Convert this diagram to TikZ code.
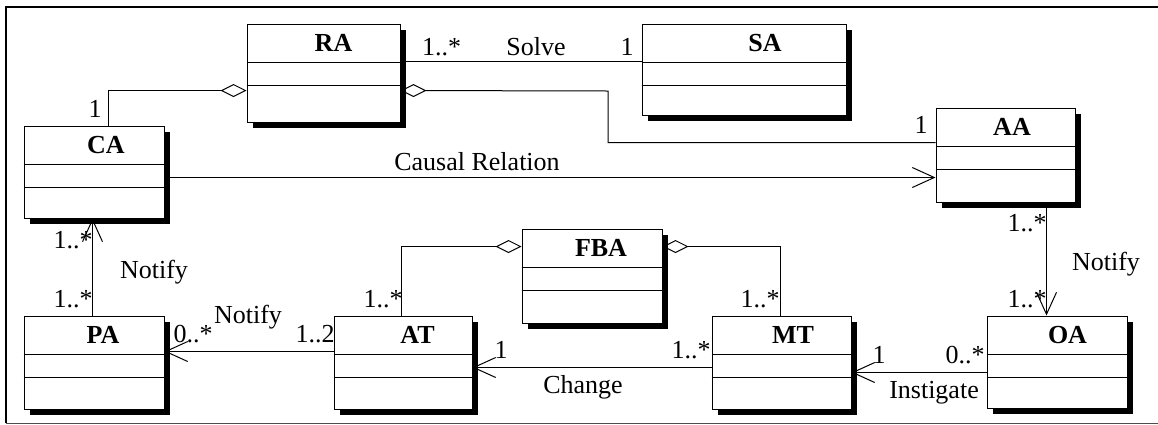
\documentclass[tikz,border=0pt]{standalone}
\usepackage{fontspec}
\setmainfont{Liberation Serif}
\usetikzlibrary{arrows.meta,fit,calc}
\tikzset{
  lbl/.style={anchor=base, inner sep=0pt, font=\fontsize{26}{30}\selectfont},
  nm/.style={anchor=base, inner sep=0pt, font=\fontsize{26}{30}\selectfont\bfseries},
  cls/.style={draw, fill=white, inner sep=0pt, line width=1pt},
  conn/.style={line width=1pt},
  nav/.style={conn, -{Straight Barb[length=22pt,width=20pt]}},
  agg/.style={conn, {Diamond[open,length=26pt,width=13pt]}-},
}
\newcommand{\umlclass}[7]{%
  \fill[black] ({#2+6},{#3+6}) rectangle ({#4+6},{#5+6});
  \node[cls, fit={(#2,#3) (#4,#5)}] (#1) {};
  \draw[line width=1pt] ($(#1.north west)+(0,39)$) -- ($(#1.north east)+(0,39)$);
  \draw[line width=1pt] ($(#1.north west)+(0,62)$) -- ($(#1.north east)+(0,62)$);
  \node[nm] (#1-name) at (#7,{#3+27.5}) {#6};
}
\begin{document}
\begin{tikzpicture}[x=1pt,y=-1pt]
\useasboundingbox (0,0) rectangle (1158,424);
\fill[white] (0,0) rectangle (1158,424);
% frame
\draw[line width=2pt] (6,423) -- (6,7) -- (1158,7);
\draw[line width=1pt, black!70] (6,423) -- (1158,423);
% classes
\umlclass{RA}{247}{24}{400}{122}{RA}{333.5}
\umlclass{SA}{642}{24}{846}{115}{SA}{765}
\umlclass{CA}{24}{126}{164}{218}{CA}{106}
\umlclass{AA}{936}{108}{1075}{202}{AA}{1012}
\umlclass{FBA}{522}{229}{662}{323}{FBA}{601}
\umlclass{PA}{24}{316}{164}{409}{PA}{103}
\umlclass{AT}{334}{316}{472}{409}{AT}{417.5}
\umlclass{MT}{712}{316}{851}{409}{MT}{793}
\umlclass{OA}{987}{316}{1127}{408}{OA}{1067.5}
% RA - CA aggregation
\draw[agg] ([yshift=-67pt]RA.north west) -| ([xshift=85pt]CA.north west);
\node[lbl] (l1) at (95,117) {1};
% RA - SA Solve
\draw[conn] ([yshift=-38pt]RA.north east) -- ([yshift=-38pt]SA.north west);
\node[lbl] (l2) at (441.5,55) {1..*};
\node[lbl] (l3) at (536,55) {Solve};
\node[lbl] (l4) at (627,55) {1};
% RA - AA aggregation
\coordinate (bend1) at (608,91);
\draw[agg] ([yshift=-67pt]RA.north east) -- (bend1) |- ([yshift=-35pt]AA.north west);
\node[lbl] (l5) at (921,133) {1};
% CA - AA causal relation
\draw[nav] ([yshift=-52pt]CA.north east) -- ([yshift=-70pt]AA.north west);
\node[lbl] (l6) at (477,170) {Causal Relation};
% PA - CA notify
\draw[nav] ([xshift=69pt]PA.north west) -- ([xshift=69pt]CA.south west);
\node[lbl] (l7) at (73,248) {1..*};
\node[lbl] (l8) at (73,307) {1..*};
\node[lbl] (l9) at (154,278) {Notify};
% AT - PA notify
\draw[nav] ([yshift=-36pt]AT.north west) -- ([yshift=-36pt]PA.north east);
\node[lbl] (l10) at (193,342) {0..*};
\node[lbl] (l11) at (248,323) {Notify};
\node[lbl] (l12) at (315,342) {1..2};
% FBA - AT aggregation
\draw[agg] ([yshift=-18pt]FBA.north west) -| ([xshift=68pt]AT.north west);
\node[lbl] (l13) at (383,307) {1..*};
% FBA - MT aggregation
\draw[agg] ([yshift=-18pt]FBA.north east) -| ([xshift=69pt]MT.north west);
\node[lbl] (l14) at (760,307) {1..*};
% MT - AT change
\draw[nav] ([yshift=-52pt]MT.north west) -- ([yshift=-52pt]AT.north east);
\node[lbl] (l15) at (501,358) {1};
\node[lbl] (l16) at (691,358) {1..*};
\node[lbl] (l17) at (583,393) {Change};
% OA - MT instigate
\draw[nav] ([yshift=-57pt]OA.north west) -- ([yshift=-57pt]MT.north east);
\node[lbl] (l18) at (879,363) {1};
\node[lbl] (l19) at (965,363) {0..*};
\node[lbl] (l20) at (934,398) {Instigate};
% AA - OA notify
\draw[nav] ([xshift=111pt]AA.south west) -- ([xshift=60pt]OA.north west);
\node[lbl] (l21) at (1027,231) {1..*};
\node[lbl] (l22) at (1027,307) {1..*};
\node[lbl] (l23) at (1106,270) {Notify};
\end{tikzpicture}
\end{document}
